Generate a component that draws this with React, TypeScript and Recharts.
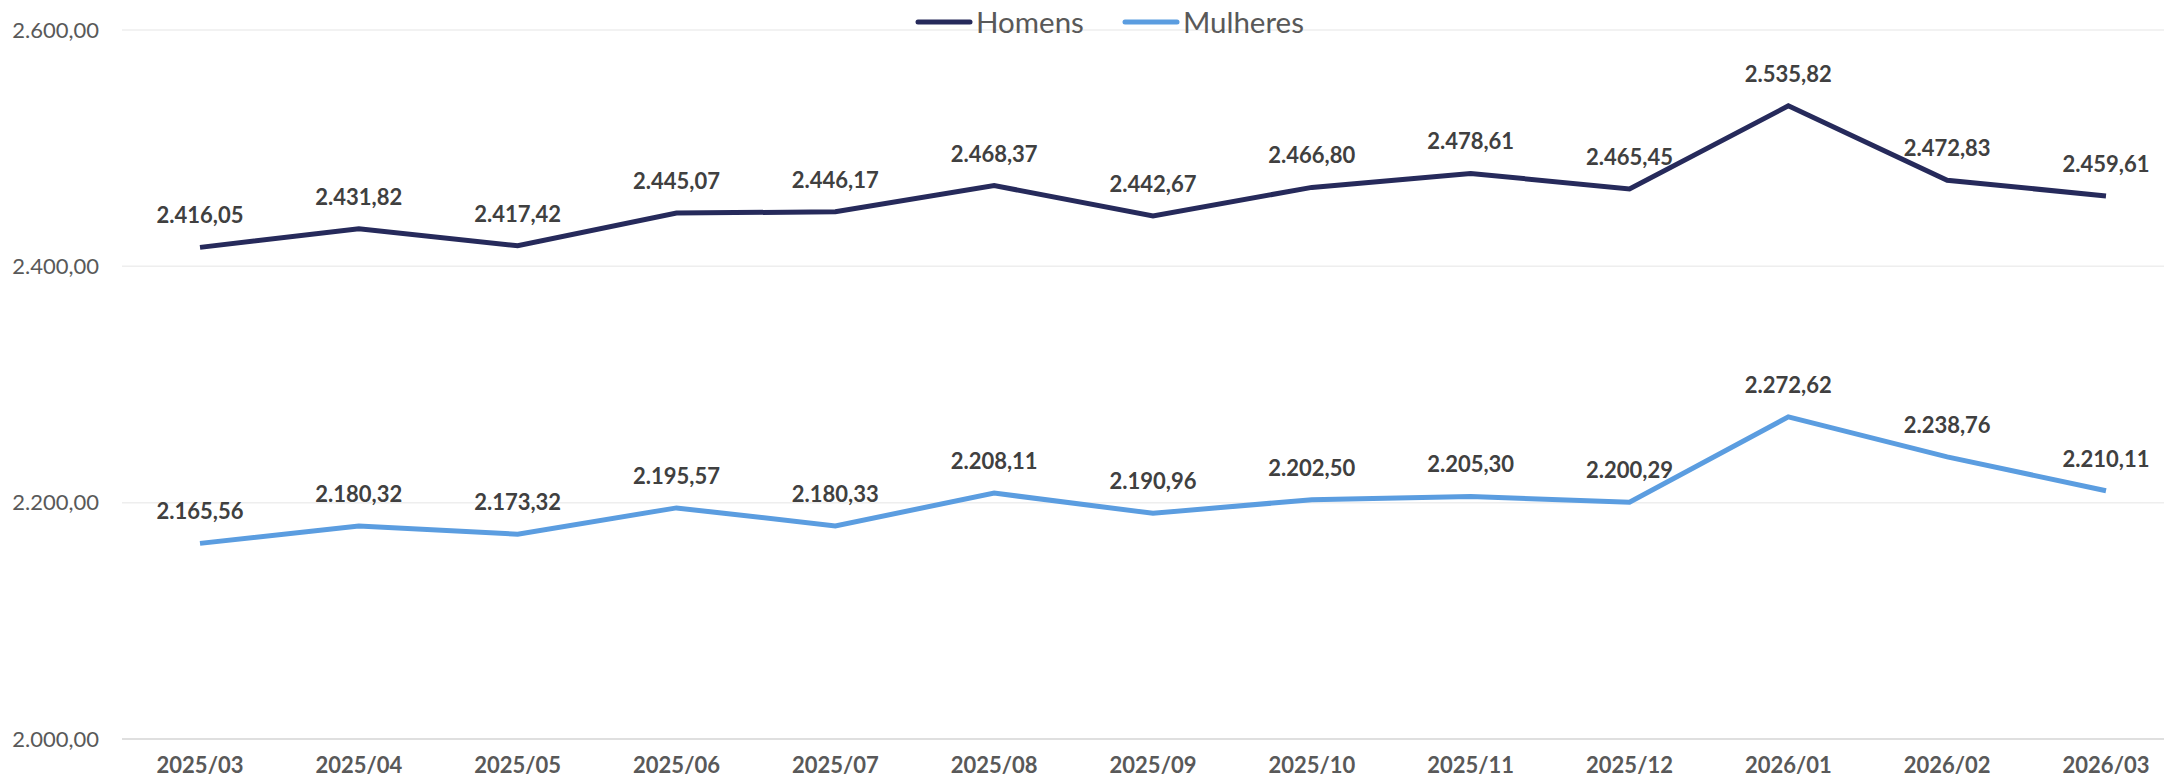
import React from "react";
import { LineChart, Line, XAxis, YAxis, CartesianGrid, Legend, LabelList } from "recharts";

const meses = [
  "2025/03", "2025/04", "2025/05", "2025/06", "2025/07", "2025/08", "2025/09",
  "2025/10", "2025/11", "2025/12", "2026/01", "2026/02", "2026/03",
];
const homens = [
  2416.05, 2431.82, 2417.42, 2445.07, 2446.17, 2468.37, 2442.67,
  2466.8, 2478.61, 2465.45, 2535.82, 2472.83, 2459.61,
];
const mulheres = [
  2165.56, 2180.32, 2173.32, 2195.57, 2180.33, 2208.11, 2190.96,
  2202.5, 2205.3, 2200.29, 2272.62, 2238.76, 2210.11,
];
const yTicks = [2000, 2200, 2400, 2600];

const data = meses.map((mes, i) => ({ mes, Homens: homens[i], Mulheres: mulheres[i] }));

// formato pt-BR: 2.416,05
function fmt(v: any) {
  const n = Number(v);
  const [int, dec] = n.toFixed(2).split(".");
  return int.replace(/\B(?=(\d{3})+(?!\d))/g, ".") + "," + dec;
}

const FONT = "Lato, 'Open Sans', sans-serif";

function LegendaCustom(props: any) {
  const items = props.payload || [];
  return (
    <div style={{ display: "flex", alignItems: "center", fontFamily: FONT, fontSize: 29.5, color: "#595959" }}>
      {items.map((it: any, i: number) => (
        <div key={i} style={{ display: "flex", alignItems: "center", marginRight: 38 }}>
          <svg width={58} height={10} style={{ marginRight: 3 }}>
            <line x1={3} y1={5} x2={55} y2={5} stroke={it.color} strokeWidth={5} strokeLinecap="round" />
          </svg>
          <span>{it.value}</span>
        </div>
      ))}
    </div>
  );
}

const labelStyle = { fontFamily: FONT, fontSize: 22, fontWeight: 700, fill: "#404040" };

export default function App() {
  return (
    <div style={{ position: "absolute", left: 0, top: 0, background: "#fff" }}>
      <LineChart width={2164} height={781} data={data} margin={{ top: 30, right: 0, left: 0, bottom: 0 }}>
        <CartesianGrid vertical={false} stroke="#EEEEEE" strokeWidth={1.5} />
        <XAxis
          dataKey="mes"
          height={42}
          padding={{ left: 78, right: 58 }}
          tickLine={false}
          tickSize={0}
          tickMargin={18}
          axisLine={{ stroke: "#D9D9D9", strokeWidth: 1.5 }}
          tick={{ fontFamily: FONT, fontSize: 22, fontWeight: 700, fill: "#595959" }}
          interval={0}
        />
        <YAxis
          width={122}
          domain={[2000, 2600]}
          ticks={yTicks}
          axisLine={false}
          tickLine={false}
          tickSize={0}
          tickMargin={23}
          tickFormatter={fmt}
          tick={{ fontFamily: FONT, fontSize: 22, fill: "#595959" }}
        />
        <Legend
          verticalAlign="middle"
          align="center"
          content={<LegendaCustom />}
          wrapperStyle={{ top: 4, left: 915, width: "auto" }}
        />
        <Line
          type="linear"
          dataKey="Homens"
          stroke="#262A5B"
          strokeWidth={5}
          dot={false}
          activeDot={false}
          isAnimationActive={false}
        >
          <LabelList dataKey="Homens" position="top" offset={24} formatter={fmt} style={labelStyle} />
        </Line>
        <Line
          type="linear"
          dataKey="Mulheres"
          stroke="#5B9DE0"
          strokeWidth={5}
          dot={false}
          activeDot={false}
          isAnimationActive={false}
        >
          <LabelList dataKey="Mulheres" position="top" offset={24} formatter={fmt} style={labelStyle} />
        </Line>
      </LineChart>
    </div>
  );
}
